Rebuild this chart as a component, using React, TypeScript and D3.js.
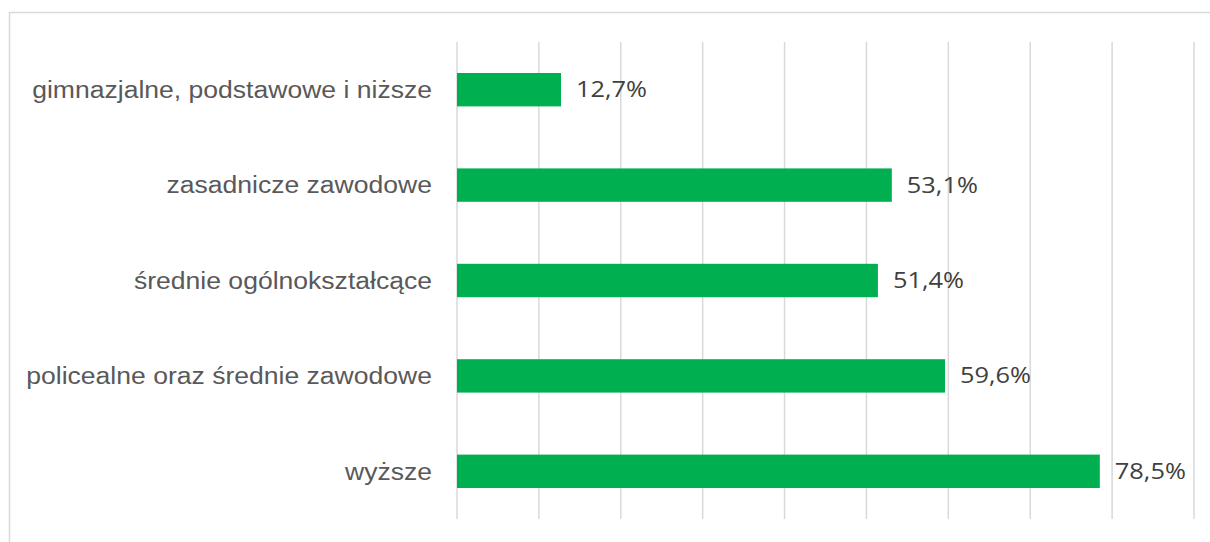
import * as d3 from "d3";
import React, { useRef, useEffect } from "react";

const categories = [
  "gimnazjalne, podstawowe i niższe",
  "zasadnicze zawodowe",
  "średnie ogólnokształcące",
  "policealne oraz średnie zawodowe",
  "wyższe",
];
const values = [12.7, 53.1, 51.4, 59.6, 78.5];
const ticks = [0, 10, 20, 30, 40, 50, 60, 70, 80, 90];

const width = 1210;
const height = 542;
const margin = { top: 42, right: 16, bottom: 23, left: 457 };

export default function App() {
  const ref = useRef(null);

  useEffect(() => {
    const svg = d3.select(ref.current);
    svg.selectAll("*").remove();

    // frame
    svg
      .append("rect")
      .attr("x", 9.5)
      .attr("y", 12.5)
      .attr("width", width)
      .attr("height", height)
      .attr("fill", "#fff")
      .attr("stroke", "#d9d9d9")
      .attr("stroke-width", 1.5);

    const scaleX = d3
      .scaleLinear()
      .domain([0, 90])
      .range([margin.left, width - margin.right]);

    const scaleY = d3
      .scaleBand()
      .domain(categories)
      .range([margin.top, height - margin.bottom])
      .paddingInner(0.65)
      .paddingOuter(0.325);

    // gridlines
    svg
      .append("g")
      .selectAll("line")
      .data(ticks)
      .join("line")
      .attr("x1", (d) => scaleX(d))
      .attr("x2", (d) => scaleX(d))
      .attr("y1", margin.top)
      .attr("y2", height - margin.bottom)
      .attr("stroke", "#d9d9d9")
      .attr("stroke-width", 1.5);

    // bars
    svg
      .append("g")
      .selectAll("rect")
      .data(values)
      .join("rect")
      .attr("x", scaleX(0))
      .attr("y", (d, i) => scaleY(categories[i]) as number)
      .attr("width", (d) => scaleX(d) - scaleX(0))
      .attr("height", scaleY.bandwidth())
      .attr("fill", "#00b050");

    // value labels (source text is slightly stretched horizontally)
    svg
      .append("g")
      .selectAll("text")
      .data(values)
      .join("text")
      .attr(
        "transform",
        (d, i) =>
          `translate(${scaleX(d) + 15},${(scaleY(categories[i]) as number) + scaleY.bandwidth() / 2}) scale(1.18,1)`
      )
      .attr("dy", "0.35em")
      .style("font-family", "'Open Sans', sans-serif")
      .style("font-size", "21.5px")
      .attr("fill", "#404040")
      .text((d) => d.toFixed(1).replace(".", ",") + "%");

    // category labels
    svg
      .append("g")
      .selectAll("text")
      .data(categories)
      .join("text")
      .attr(
        "transform",
        (d) =>
          `translate(${margin.left - 25},${(scaleY(d) as number) + scaleY.bandwidth() / 2}) scale(1.13,1)`
      )
      .attr("dy", "0.35em")
      .attr("text-anchor", "end")
      .style("font-family", "'Liberation Sans', Arial, sans-serif")
      .style("font-size", "23.5px")
      .attr("fill", "#595959")
      .text((d) => d);
  }, []);

  return (
    <svg
      ref={ref}
      width={width}
      height={height}
      style={{ position: "absolute", left: 0, top: 0 }}
    ></svg>
  );
}
